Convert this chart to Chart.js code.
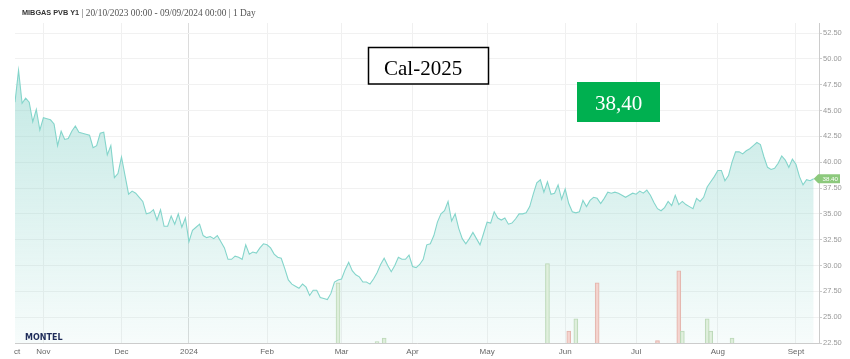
<!DOCTYPE html>
<html><head><meta charset="utf-8">
<script src="https://cdn.jsdelivr.net/npm/chart.js@4.4.1/dist/chart.umd.min.js"></script>
<style>html,body{margin:0;padding:0;background:#fff;}#wrap{width:850px;height:359px;position:relative;}</style>
</head><body><div id="wrap"><canvas id="c" width="850" height="359"></canvas></div>
<script>
// Trading-day index of each month tick and its label
const monthTickIndex = [0.6, 8, 30, 49, 71, 92, 112, 133, 155, 175, 198, 220];
const monthTickLabels = ['ct','Nov','Dec','2024','Feb','Mar','Apr','May','Jun','Jul','Aug','Sept'];

// Daily settlement prices (EUR/MWh), trading days 20/10/2023 .. 09/09/2024
const prices = [
45.8,48.9,45.7,46.2,45.8,43.9,45.1,43.1,44.3,44.2,
44.1,43.7,41.6,43.0,42.2,42.3,43.0,43.5,42.9,42.8,
42.7,42.6,41.4,41.6,42.8,42.9,40.7,41.6,38.5,38.9,
40.5,38.7,36.9,37.2,37.0,36.6,36.2,35.0,35.1,35.4,
34.4,35.4,33.8,33.8,34.8,34.0,35.0,33.7,34.6,32.3,
33.4,33.7,34.0,32.9,32.7,32.8,32.6,32.9,32.3,31.7,
30.6,30.6,30.9,30.8,30.6,32.0,31.1,31.3,31.2,31.7,
32.1,32.0,31.7,31.1,30.8,30.7,29.7,28.6,28.2,28.0,
27.8,28.2,27.9,27.1,27.6,27.6,26.9,26.8,26.7,27.3,
28.4,28.6,28.7,29.6,30.3,29.5,29.1,28.9,28.4,28.4,
28.2,28.7,29.3,30.1,30.7,30.0,29.4,30.0,30.8,30.6,
30.6,31.0,29.9,29.8,30.1,30.6,32.0,32.1,32.9,34.2,
35.0,35.3,36.2,34.3,35.0,33.6,32.6,32.1,32.6,33.2,
32.6,32.0,33.1,34.2,34.1,35.2,34.6,34.4,34.6,34.0,
34.1,34.5,35.0,35.0,35.1,35.7,36.9,38.0,38.3,37.1,
38.1,36.9,37.0,37.8,36.4,37.4,36.0,35.2,35.1,35.2,
36.3,35.7,36.3,36.6,36.5,36.0,36.5,37.1,37.0,37.1,
37.0,36.8,36.6,36.8,37.0,36.9,37.2,37.0,37.3,36.8,
36.1,35.5,35.3,35.6,36.2,35.8,36.8,35.9,36.2,35.9,
35.7,35.5,36.5,36.2,36.6,37.6,38.1,38.6,39.2,39.2,
38.2,38.7,40.0,41.0,41.0,40.8,41.1,41.3,41.6,41.9,
41.7,40.5,39.5,39.3,39.4,39.9,40.6,40.2,39.5,40.3,
39.8,38.6,37.8,38.3,38.2,38.4
];

// Traded volume bars
const volumeIndex  = [91, 102, 104, 150, 156, 158, 164, 181, 187, 188, 195, 196, 202];
const volumeValues = [25, 0.6, 2, 33, 5, 10, 25, 1, 30, 5, 10, 5, 2];
const volumeUp     = [true, true, true, true, false, true, false, false, false, true, true, true, true];

const titleBold = 'MIBGAS PVB Y1';
const titleRest = ' | 20/10/2023 00:00 - 09/09/2024 00:00 | 1 Day';
const productLabel = 'Cal-2025';
const lastPriceLabel = '38,40';

const overlay = {
  id: 'overlay',
  afterDraw(chart) {
    const c = chart.ctx;
    c.save();
    // title
    c.textBaseline = 'middle';
    c.textAlign = 'left';
    c.font = 'bold 7.3px "Liberation Sans", Arial, sans-serif';
    c.fillStyle = '#333';
    c.fillText(titleBold, 22, 13);
    const w = c.measureText(titleBold).width;
    c.font = '9.4px "Liberation Serif", serif';
    c.fillStyle = '#555';
    c.fillText(titleRest, 22 + w, 13.5);

    // product box
    c.fillStyle = '#fff';
    c.fillRect(368.5, 47.5, 120, 36.5);
    c.lineWidth = 1.5;
    c.strokeStyle = '#000';
    c.strokeRect(368.5, 47.5, 120, 36.5);
    c.fillStyle = '#000';
    c.font = '21px "Liberation Serif", serif';
    c.textBaseline = 'alphabetic';
    c.fillText(productLabel, 384, 75);

    // last price box
    c.fillStyle = '#00b050';
    c.fillRect(577, 82, 83, 40);
    c.fillStyle = '#fff';
    c.font = '21px "Liberation Serif", serif';
    c.fillText(lastPriceLabel, 595, 109.5);

    // last value tag
    const xs = chart.scales.x, ys = chart.scales.y;
    const last = prices[prices.length - 1];
    const yy = ys.getPixelForValue(last);
    const xx = xs.getPixelForValue(prices.length - 1);
    c.fillStyle = '#8cc97c';
    c.beginPath();
    c.moveTo(xx, yy);
    c.lineTo(xx + 4.5, yy - 4.5);
    c.lineTo(840, yy - 4.5);
    c.lineTo(840, yy + 4.5);
    c.lineTo(xx + 4.5, yy + 4.5);
    c.closePath();
    c.fill();
    c.fillStyle = '#fff';
    c.font = '6.2px "Liberation Sans", Arial, sans-serif';
    c.textBaseline = 'middle';
    c.fillText(last.toFixed(2), 822.5, yy + 0.5);

    // logo
    c.fillStyle = '#1f2d5a';
    c.font = 'bold 8px "DejaVu Sans", sans-serif';
    c.fillText('MONTEL', 25, 338);
    c.restore();
  }
};

new Chart(document.getElementById('c'), {
  type: 'line',
  data: {
    datasets: [
      {
        type: 'line',
        data: prices.map((v, i) => ({x: i, y: v})),
        borderColor: '#84d5cb',
        borderWidth: 1.1,
        pointRadius: 0,
        tension: 0,
        fill: 'start',
        backgroundColor: (ctx) => {
          const area = ctx.chart.chartArea;
          if (!area) return 'rgba(140,212,203,0.3)';
          const g = ctx.chart.ctx.createLinearGradient(0, area.top, 0, area.bottom);
          g.addColorStop(0, 'rgba(140,212,203,0.6)');
          g.addColorStop(1, 'rgba(140,212,203,0.07)');
          return g;
        },
        yAxisID: 'y',
        order: 0
      },
      {
        type: 'bar',
        data: volumeIndex.map((x, i) => ({x: x, y: volumeValues[i]})),
        backgroundColor: volumeUp.map(u => u ? 'rgba(222,238,218,0.9)' : 'rgba(244,210,204,0.9)'),
        borderColor: volumeUp.map(u => u ? '#bcd9b8' : '#e4b4ac'),
        borderWidth: 1,
        barThickness: 4,
        yAxisID: 'yv',
        order: 1
      }
    ]
  },
  options: {
    responsive: false,
    animation: false,
    layout: {padding: {top: 23, left: 15, right: 0, bottom: 0}},
    plugins: {legend: {display: false}, tooltip: {enabled: false}, title: {display: false},
      filler: {drawTime: 'beforeDatasetsDraw'}},
    scales: {
      x: {
        type: 'linear',
        offset: false,
        min: 0,
        max: 226.5,
        afterBuildTicks: (s) => { s.ticks = monthTickIndex.map(v => ({value: v})); },
        afterFit: (s) => { s.height = 16; },
        ticks: {
          autoSkip: false, maxRotation: 0, padding: 4,
          font: {size: 8, family: '"Liberation Sans", Arial, sans-serif'},
          color: '#666',
          callback: (v, i) => monthTickLabels[i]
        },
        grid: {
          offset: false,
          drawTicks: false,
          color: (ctx) => ctx.index === 0 ? 'rgba(0,0,0,0)' : (ctx.index === 3 ? '#dcdcdc' : '#f0f0f0')
        },
        border: {color: '#cccccc'}
      },
      y: {
        position: 'right',
        min: 22.5,
        max: 53.47,
        afterFit: (s) => { s.width = 31; },
        ticks: {
          stepSize: 2.5, includeBounds: false, padding: 1,
          font: {size: 7.5, family: '"Liberation Sans", Arial, sans-serif'},
          color: '#999',
          callback: (v) => Number(v).toFixed(2)
        },
        grid: {color: '#f1f1f1', tickLength: 3, tickColor: '#cccccc'},
        border: {color: '#cccccc'}
      },
      yv: {display: false, min: 0, max: 133}
    }
  },
  plugins: [overlay]
});
</script>
</body></html>
